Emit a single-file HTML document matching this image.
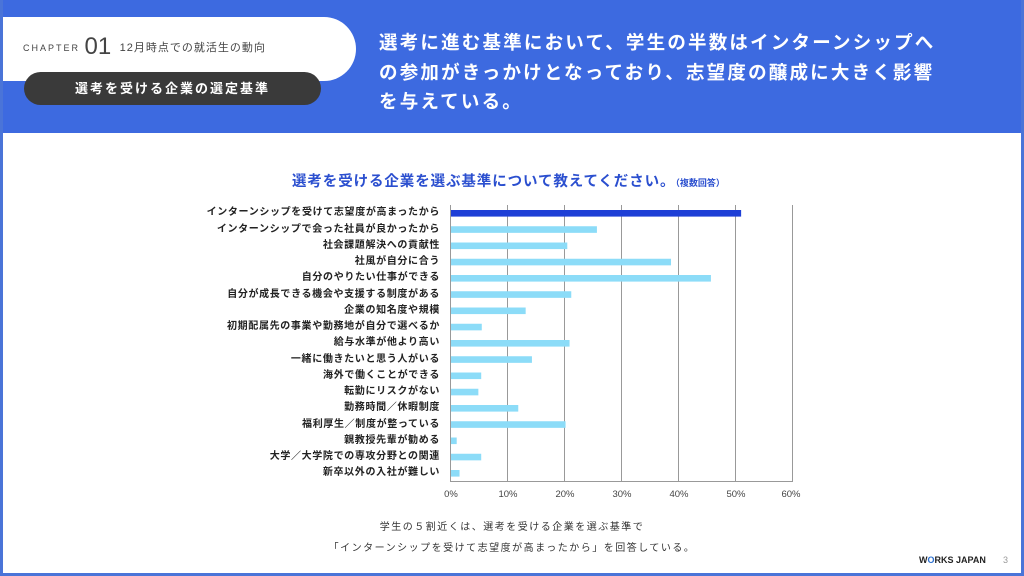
<!DOCTYPE html>
<html><head><meta charset="utf-8"><style>
*{margin:0;padding:0;box-sizing:border-box}
body{width:1024px;height:576px;position:relative;overflow:hidden;background:#fff;font-family:"Liberation Sans","Noto Sans CJK JP",sans-serif}
.frame{position:absolute;left:0;top:0;width:1024px;height:576px;border:3px solid #4a74d8;border-top:0}
.hdr{position:absolute;left:0;top:0;width:1024px;height:133px;background:#3d6ae0}
.wp{position:absolute;left:0;top:17px;width:356px;height:64px;background:#fff;border-radius:0 32px 32px 0}
.dp{position:absolute;left:24px;top:72px;width:297px;height:33px;background:#3a3a3a;border-radius:17px;color:#fff;font-size:13px;font-weight:bold;text-align:center;line-height:33px;letter-spacing:2px}
.ch{position:absolute;left:23px;top:33px;color:#444;white-space:nowrap}
.hl{position:absolute;left:379px;top:28px;color:#fff;font-size:18.5px;font-weight:bold;line-height:29.5px;letter-spacing:2.2px;white-space:nowrap}
.lab{position:absolute;right:584px;font-size:10px;font-weight:bold;color:#222;white-space:nowrap;line-height:12px;letter-spacing:0.65px}
.ttl{position:absolute;left:292px;top:170px;color:#2b4fcf;font-size:14.5px;font-weight:bold;white-space:nowrap;letter-spacing:0.9px}
.cap{position:absolute;left:0;width:1024px;text-align:center;font-size:10px;color:#333;letter-spacing:1.5px}
</style></head><body>
<div class="hdr"></div>
<div class="wp"></div>
<div class="ch"><span style="font-size:9px;letter-spacing:2px;vertical-align:3px">CHAPTER</span> <span style="font-size:24px">01</span> <span style="font-size:11px;letter-spacing:1px;vertical-align:3px;margin-left:4px">12月時点での就活生の動向</span></div>
<div class="dp">選考を受ける企業の選定基準</div>
<div class="hl">選考に進む基準において、学生の半数はインターンシップへ<br>の参加がきっかけとなっており、志望度の醸成に大きく影響<br>を与えている。</div>
<div class="ttl">選考を受ける企業を選ぶ基準について教えてください。<span style="font-size:9px;color:#2b4fcf;letter-spacing:0">（複数回答）</span></div>
<svg style="position:absolute;left:0;top:0" width="1024" height="576">
<g stroke="#999" stroke-width="1">
<line x1="507.5" y1="205" x2="507.5" y2="482"/><line x1="564.5" y1="205" x2="564.5" y2="482"/><line x1="621.5" y1="205" x2="621.5" y2="482"/><line x1="678.5" y1="205" x2="678.5" y2="482"/><line x1="735.5" y1="205" x2="735.5" y2="482"/><line x1="792.5" y1="205" x2="792.5" y2="482"/>
<line x1="450.5" y1="205" x2="450.5" y2="482"/><line x1="450" y1="481.5" x2="793" y2="481.5"/>
</g>
<g id="bars"></g>
<g font-size="9.5" fill="#444" text-anchor="middle" font-family="Liberation Sans,sans-serif">
<text x="451" y="497">0%</text><text x="508" y="497">10%</text><text x="565" y="497">20%</text><text x="622" y="497">30%</text><text x="679" y="497">40%</text><text x="736" y="497">50%</text><text x="791" y="497">60%</text>
</g>
</svg>
<div id="labs"></div>
<div class="cap" style="top:518px">学生の５割近くは、選考を受ける企業を選ぶ基準で</div>
<div class="cap" style="top:539px">「インターンシップを受けて志望度が高まったから」を回答している。</div>
<div style="position:absolute;left:919px;top:555px;font-size:9px;font-weight:bold;color:#222">W<span style="color:#2a6fd0">O</span>RKS JAPAN</div>
<div style="position:absolute;left:1003px;top:555px;font-size:9px;color:#999">3</div>
<div class="frame"></div>
<script>
var L=["インターンシップを受けて志望度が高まったから","インターンシップで会った社員が良かったから","社会課題解決への貢献性","社風が自分に合う","自分のやりたい仕事ができる","自分が成長できる機会や支援する制度がある","企業の知名度や規模","初期配属先の事業や勤務地が自分で選べるか","給与水準が他より高い","一緒に働きたいと思う人がいる","海外で働くことができる","転勤にリスクがない","勤務時間／休暇制度","福利厚生／制度が整っている","親教授先輩が勧める","大学／大学院での専攻分野との関連","新卒以外の入社が難しい"];
var V=[50.9,25.6,20.4,38.6,45.6,21.1,13.1,5.4,20.8,14.2,5.3,4.8,11.8,20.1,1.0,5.3,1.5];
var g=document.getElementById('bars'),h='',lh='';
for(var i=0;i<17;i++){var y=213.3+i*16.25;
h+='<rect x="451" y="'+(y-3.3)+'" width="'+(V[i]*5.7)+'" height="6.6" fill="'+(i?'#8cdcf8':'#1e3fd6')+'"/>';
lh+='<div class="lab" style="top:'+(y-6)+'px">'+L[i]+'</div>';}
g.innerHTML=h;document.getElementById('labs').innerHTML=lh;
</script>
</body></html>
